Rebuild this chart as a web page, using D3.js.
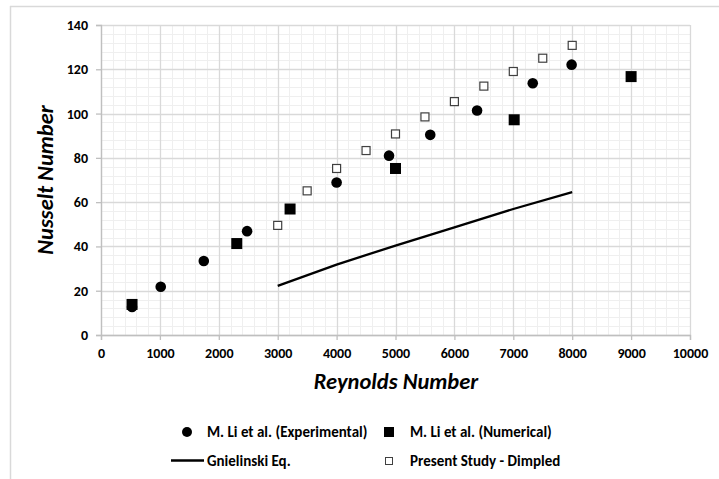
<!DOCTYPE html>
<html>
<head>
<meta charset="utf-8">
<script src="https://cdn.jsdelivr.net/npm/d3@7"></script>
<style>
  html, body { margin: 0; padding: 0; background: #fff; overflow: hidden; }
  svg { display: block; }
  text { font-family: Carlito, Calibri, Lato, sans-serif; font-weight: bold; fill: #000; }
</style>
</head>
<body>
<div id="chart"></div>
<script>
// M. Li et al. experimental (circles)
const expRe = [527, 1014, 1745, 2480, 4000, 4890, 5590, 6385, 7330, 7990];
const expNu = [12.7, 21.8, 33.4, 46.9, 68.9, 81, 90.4, 101.4, 113.7, 122.1];

// M. Li et al. numerical (filled squares)
const numRe = [527, 2305, 3210, 5000, 7015, 9000];
const numNu = [13.8, 41.3, 56.9, 75.2, 97.2, 116.7];

// Gnielinski correlation (line)
const gnRe = [3000, 4000, 5000, 6000, 7000, 8000];
const gnNu = [22.2, 31.8, 40.4, 48.6, 56.9, 64.5];

// present study, dimpled (open squares)
const psRe = [3000, 3500, 4000, 4500, 5000, 5500, 6000, 6500, 7000, 7500, 8000];
const psNu = [49.5, 65.1, 75.2, 83.3, 90.8, 98.5, 105.4, 112.4, 119, 125, 130.8];

const xTicks = d3.range(0, 10001, 1000);
const yTicks = d3.range(0, 141, 20);

const width = 719;
const height = 479;
const margin = { top: 25, right: 29, bottom: 144, left: 101 };
const innerWidth = width - margin.left - margin.right;
const innerHeight = height - margin.top - margin.bottom;
const font = 'Carlito, Calibri, Lato, sans-serif';

const xScale = d3.scaleLinear().domain([0, 10000]).range([0, innerWidth]);
const yScale = d3.scaleLinear().domain([0, 140]).range([innerHeight, 0]);

const svg = d3.select('#chart')
  .append('svg')
    .attr('width', width)
    .attr('height', height);

// chart frame, only its top and left edges are inside the picture
svg.append('line')
  .attr('x1', 10).attr('x2', width)
  .attr('y1', 6.5).attr('y2', 6.5)
  .attr('stroke', '#d9d9d9').attr('stroke-width', 1.5);
svg.append('line')
  .attr('x1', 10.5).attr('x2', 10.5)
  .attr('y1', 6).attr('y2', height)
  .attr('stroke', '#d9d9d9').attr('stroke-width', 1.5);

const inner = svg.append('g')
  .attr('transform', `translate(${margin.left}, ${margin.top})`);

// minor grid
inner.append('g')
  .selectAll('line')
  .data(d3.range(0, 10001, 200).filter(v => v % 1000))
  .join('line')
    .attr('x1', d => Math.round(xScale(d)) + 0.5)
    .attr('x2', d => Math.round(xScale(d)) + 0.5)
    .attr('y1', 0)
    .attr('y2', innerHeight)
    .attr('stroke', '#efefef');

inner.append('g')
  .selectAll('line')
  .data(d3.range(0, 141, 4).filter(v => v % 20))
  .join('line')
    .attr('x1', 0)
    .attr('x2', innerWidth)
    .attr('y1', d => Math.round(yScale(d)) + 0.5)
    .attr('y2', d => Math.round(yScale(d)) + 0.5)
    .attr('stroke', '#efefef');

// major grid
inner.append('g')
  .selectAll('line')
  .data(xTicks)
  .join('line')
    .attr('x1', d => Math.round(xScale(d)) + 0.5)
    .attr('x2', d => Math.round(xScale(d)) + 0.5)
    .attr('y1', 0)
    .attr('y2', innerHeight)
    .attr('stroke', '#d9d9d9')
    .attr('stroke-width', 1.3);

inner.append('g')
  .selectAll('line')
  .data(yTicks)
  .join('line')
    .attr('x1', 0)
    .attr('x2', innerWidth)
    .attr('y1', d => Math.round(yScale(d)) + 0.5)
    .attr('y2', d => Math.round(yScale(d)) + 0.5)
    .attr('stroke', '#d9d9d9')
    .attr('stroke-width', 1.3);

// axes
const xAxis = d3.axisBottom(xScale).tickValues(xTicks).tickSize(5).tickPadding(8).tickFormat(d3.format('d'));
const yAxis = d3.axisLeft(yScale).tickValues(yTicks).tickSize(5).tickPadding(8);

const gx = inner.append('g')
  .attr('transform', `translate(0, ${innerHeight})`)
  .call(xAxis);
const gy = inner.append('g').call(yAxis);

[gx, gy].forEach(g => {
  g.select('.domain').attr('stroke', '#bfbfbf').attr('stroke-width', 1.3);
  g.selectAll('.tick line').attr('stroke', '#bfbfbf').attr('stroke-width', 1.3);
  g.selectAll('.tick text')
    .attr('font-family', font)
    .attr('font-weight', 'bold')
    .attr('font-size', 14)
    .attr('fill', '#000');
});

// axis titles
svg.append('text')
  .attr('x', 396)
  .attr('y', 389)
  .attr('text-anchor', 'middle')
  .attr('font-size', 22.5)
  .attr('font-style', 'italic')
  .text('Reynolds Number');

svg.append('text')
  .attr('transform', 'translate(53, 180) rotate(-90)')
  .attr('text-anchor', 'middle')
  .attr('font-size', 22.5)
  .attr('font-style', 'italic')
  .text('Nusselt Number');

// Gnielinski line
const line = d3.line()
  .x((d, i) => xScale(gnRe[i]))
  .y(d => yScale(d));

inner.append('path')
  .datum(gnNu)
  .attr('d', line)
  .attr('fill', 'none')
  .attr('stroke', '#000')
  .attr('stroke-width', 2.3);

// experimental circles
inner.append('g')
  .selectAll('circle')
  .data(expNu)
  .join('circle')
    .attr('cx', (d, i) => xScale(expRe[i]))
    .attr('cy', d => yScale(d))
    .attr('r', 5.3)
    .attr('fill', '#000');

// numerical squares
const sq = 11;
inner.append('g')
  .selectAll('rect')
  .data(numNu)
  .join('rect')
    .attr('x', (d, i) => xScale(numRe[i]) - sq / 2)
    .attr('y', d => yScale(d) - sq / 2)
    .attr('width', sq)
    .attr('height', sq)
    .attr('fill', '#000');

// present study open squares
const osq = 8;
inner.append('g')
  .selectAll('rect')
  .data(psNu)
  .join('rect')
    .attr('x', (d, i) => xScale(psRe[i]) - osq / 2)
    .attr('y', d => yScale(d) - osq / 2)
    .attr('width', osq)
    .attr('height', osq)
    .attr('fill', '#fff')
    .attr('stroke', '#404040')
    .attr('stroke-width', 1.2);

// legend
const legend = svg.append('g');
const row1 = 432;
const row2 = 461;

legend.append('circle').attr('cx', 187).attr('cy', row1).attr('r', 5).attr('fill', '#000');
legend.append('text').attr('x', 207).attr('y', row1 + 5).attr('font-size', 15).text('M. Li et al. (Experimental)');

legend.append('rect').attr('x', 384).attr('y', row1 - 5).attr('width', 10).attr('height', 10).attr('fill', '#000');
legend.append('text').attr('x', 410).attr('y', row1 + 5).attr('font-size', 15).text('M. Li et al. (Numerical)');

legend.append('line').attr('x1', 171).attr('x2', 204).attr('y1', row2 - 0.5).attr('y2', row2 - 0.5)
  .attr('stroke', '#000').attr('stroke-width', 2.3);
legend.append('text').attr('x', 207).attr('y', row2 + 5).attr('font-size', 15).text('Gnielinski Eq.');

legend.append('rect').attr('x', 385.5).attr('y', row2 - 3.5).attr('width', 7).attr('height', 7)
  .attr('fill', '#fff').attr('stroke', '#404040').attr('stroke-width', 1);
legend.append('text').attr('x', 410).attr('y', row2 + 5).attr('font-size', 15).text('Present Study - Dimpled');
</script>
</body>
</html>
